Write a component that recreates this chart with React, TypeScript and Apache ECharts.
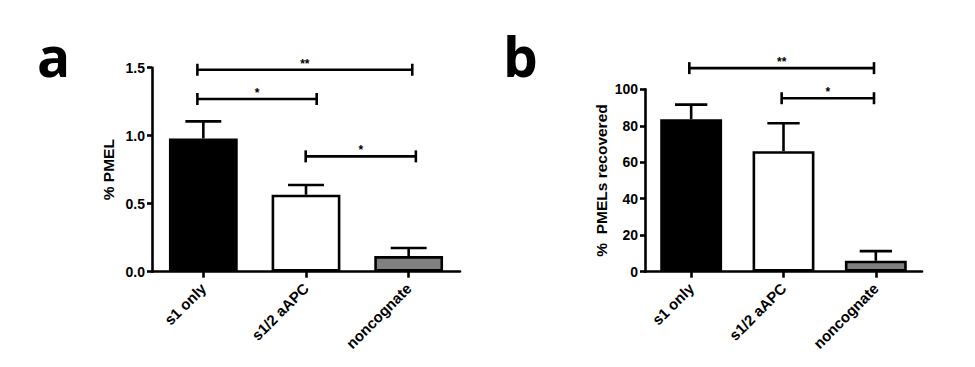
import React, { useEffect, useRef } from "react";
import * as echarts from "echarts";

const categories = ["s1 only", "s1/2 aAPC", "noncognate"];
const barColors = ["#000000", "#ffffff", "#808080"];

// panel a: % PMEL
const pmelMean = [0.98, 0.566, 0.115];
const pmelUpper = [1.105, 0.637, 0.174];
// brackets: [from (category position), to (category position), y value, label]
const pmelSig: [number, number, number, string][] = [
  [-0.058, 2.035, 1.485, "**"],
  [-0.058, 1.104, 1.27, "*"],
  [0.997, 2.07, 0.848, "*"],
];

// panel b: % PMELs recovered
const recMean = [83.6, 66.1, 6.0];
const recUpper = [91.6, 81.4, 11.3];
const recSig: [number, number, number, string][] = [
  [-0.02, 1.98, 111.6, "**"],
  [0.98, 1.98, 95.1, "*"],
];

const FONT = "Liberation Sans, Arial, sans-serif";

function errorSeries(grid: number, means: number[], uppers: number[], capFrac: number) {
  return {
    type: "custom",
    xAxisIndex: grid,
    yAxisIndex: grid,
    z: 5,
    clip: false,
    data: means.map((m, i) => [i, uppers[i]]),
    renderItem: (params: any, api: any) => {
      const i = params.dataIndex;
      const p0 = api.coord([i, means[i]]);
      const p1 = api.coord([i, uppers[i]]);
      const band = api.size([1, 0])[0];
      const hw = (band * capFrac) / 2;
      const style = { stroke: "#000", lineWidth: 2.6 };
      return {
        type: "group",
        children: [
          { type: "line", shape: { x1: p0[0], y1: p0[1], x2: p1[0], y2: p1[1] }, style },
          { type: "line", shape: { x1: p1[0] - hw, y1: p1[1], x2: p1[0] + hw, y2: p1[1] }, style },
        ],
      };
    },
  };
}

function sigSeries(grid: number, sig: [number, number, number, string][]) {
  return {
    type: "custom",
    xAxisIndex: grid,
    yAxisIndex: grid,
    z: 6,
    clip: false,
    data: sig.map((s) => [0, s[2]]),
    renderItem: (params: any, api: any) => {
      const s = sig[params.dataIndex];
      const base = api.coord([0, s[2]]);
      const band = api.size([1, 0])[0];
      const xa = base[0] + s[0] * band;
      const xb = base[0] + s[1] * band;
      const y = base[1];
      const style = { stroke: "#000", lineWidth: 2.6 };
      return {
        type: "group",
        children: [
          { type: "line", shape: { x1: xa, y1: y, x2: xb, y2: y }, style },
          { type: "line", shape: { x1: xa, y1: y - 6, x2: xa, y2: y + 6 }, style },
          { type: "line", shape: { x1: xb, y1: y - 6, x2: xb, y2: y + 6 }, style },
          {
            type: "text",
            style: {
              text: s[3],
              x: (xa + xb) / 2,
              y: y - 6,
              align: "center",
              verticalAlign: "middle",
              fontSize: 12,
              fontWeight: "bold",
              fontFamily: FONT,
              fill: "#000",
            },
          },
        ],
      };
    },
  };
}

function barSeries(grid: number, means: number[]) {
  return {
    type: "bar",
    xAxisIndex: grid,
    yAxisIndex: grid,
    barWidth: "67%",
    data: means.map((v, i) => ({
      value: v,
      itemStyle: { color: barColors[i], borderColor: "#000", borderWidth: 2.6 },
    })),
  };
}

const axisLineStyle = { lineStyle: { color: "#000", width: 2.6 } };

function xAxis(grid: number) {
  return {
    type: "category",
    gridIndex: grid,
    data: categories,
    axisLine: { show: true, ...axisLineStyle },
    axisTick: { show: true, alignWithLabel: true, length: 6, lineStyle: { color: "#000", width: 2.6 } },
    axisLabel: {
      rotate: 45,
      margin: 14,
      color: "#000",
      fontSize: 15,
      fontWeight: "bold",
      fontFamily: FONT,
      interval: 0,
    },
    splitLine: { show: false },
  };
}

function yAxis(grid: number, name: string, max: number, interval: number, decimals: number) {
  return {
    type: "value",
    gridIndex: grid,
    min: 0,
    max,
    interval,
    name,
    nameLocation: "middle",
    nameGap: 36,
    nameTextStyle: { color: "#000", fontSize: 15.5, fontWeight: "bold", fontFamily: FONT },
    axisLine: { show: true, ...axisLineStyle },
    axisTick: { show: true, length: 5, lineStyle: { color: "#000", width: 2.6 } },
    axisLabel: {
      margin: 7,
      color: "#000",
      fontSize: 14,
      fontWeight: "bold",
      fontFamily: FONT,
      formatter: (v: number) => v.toFixed(decimals),
    },
    splitLine: { show: false },
  };
}

export default function App() {
  const ref = useRef<HTMLDivElement>(null);
  useEffect(() => {
    if (!ref.current) return;
    const chart = echarts.init(ref.current, undefined, { renderer: "svg" });
    chart.setOption({
      animation: false,
      backgroundColor: "#fff",
      grid: [
        { left: 152, top: 67.7, width: 308, height: 204 },
        { left: 645, top: 89.3, width: 277, height: 182.4 },
      ],
      xAxis: [xAxis(0), xAxis(1)],
      yAxis: [yAxis(0, "% PMEL", 1.5, 0.5, 1), yAxis(1, "%  PMELs recovered", 100, 20, 0)],
      series: [
        barSeries(0, pmelMean),
        errorSeries(0, pmelMean, pmelUpper, 0.35),
        sigSeries(0, pmelSig),
        barSeries(1, recMean),
        errorSeries(1, recMean, recUpper, 0.35),
        sigSeries(1, recSig),
      ],
      graphic: [
        {
          type: "text",
          left: 37,
          top: 28,
          style: { text: "a", fontSize: 55, fontWeight: "bold", fontFamily: "Open Sans", fill: "#000" },
        },
        {
          type: "text",
          left: 503,
          top: 28,
          style: { text: "b", fontSize: 55, fontWeight: "bold", fontFamily: "Open Sans", fill: "#000" },
        },
      ],
    });
    return () => chart.dispose();
  }, []);
  return (
    <div
      ref={ref}
      style={{ position: "absolute", left: 0, top: 0, width: 975, height: 367 }}
    />
  );
}
